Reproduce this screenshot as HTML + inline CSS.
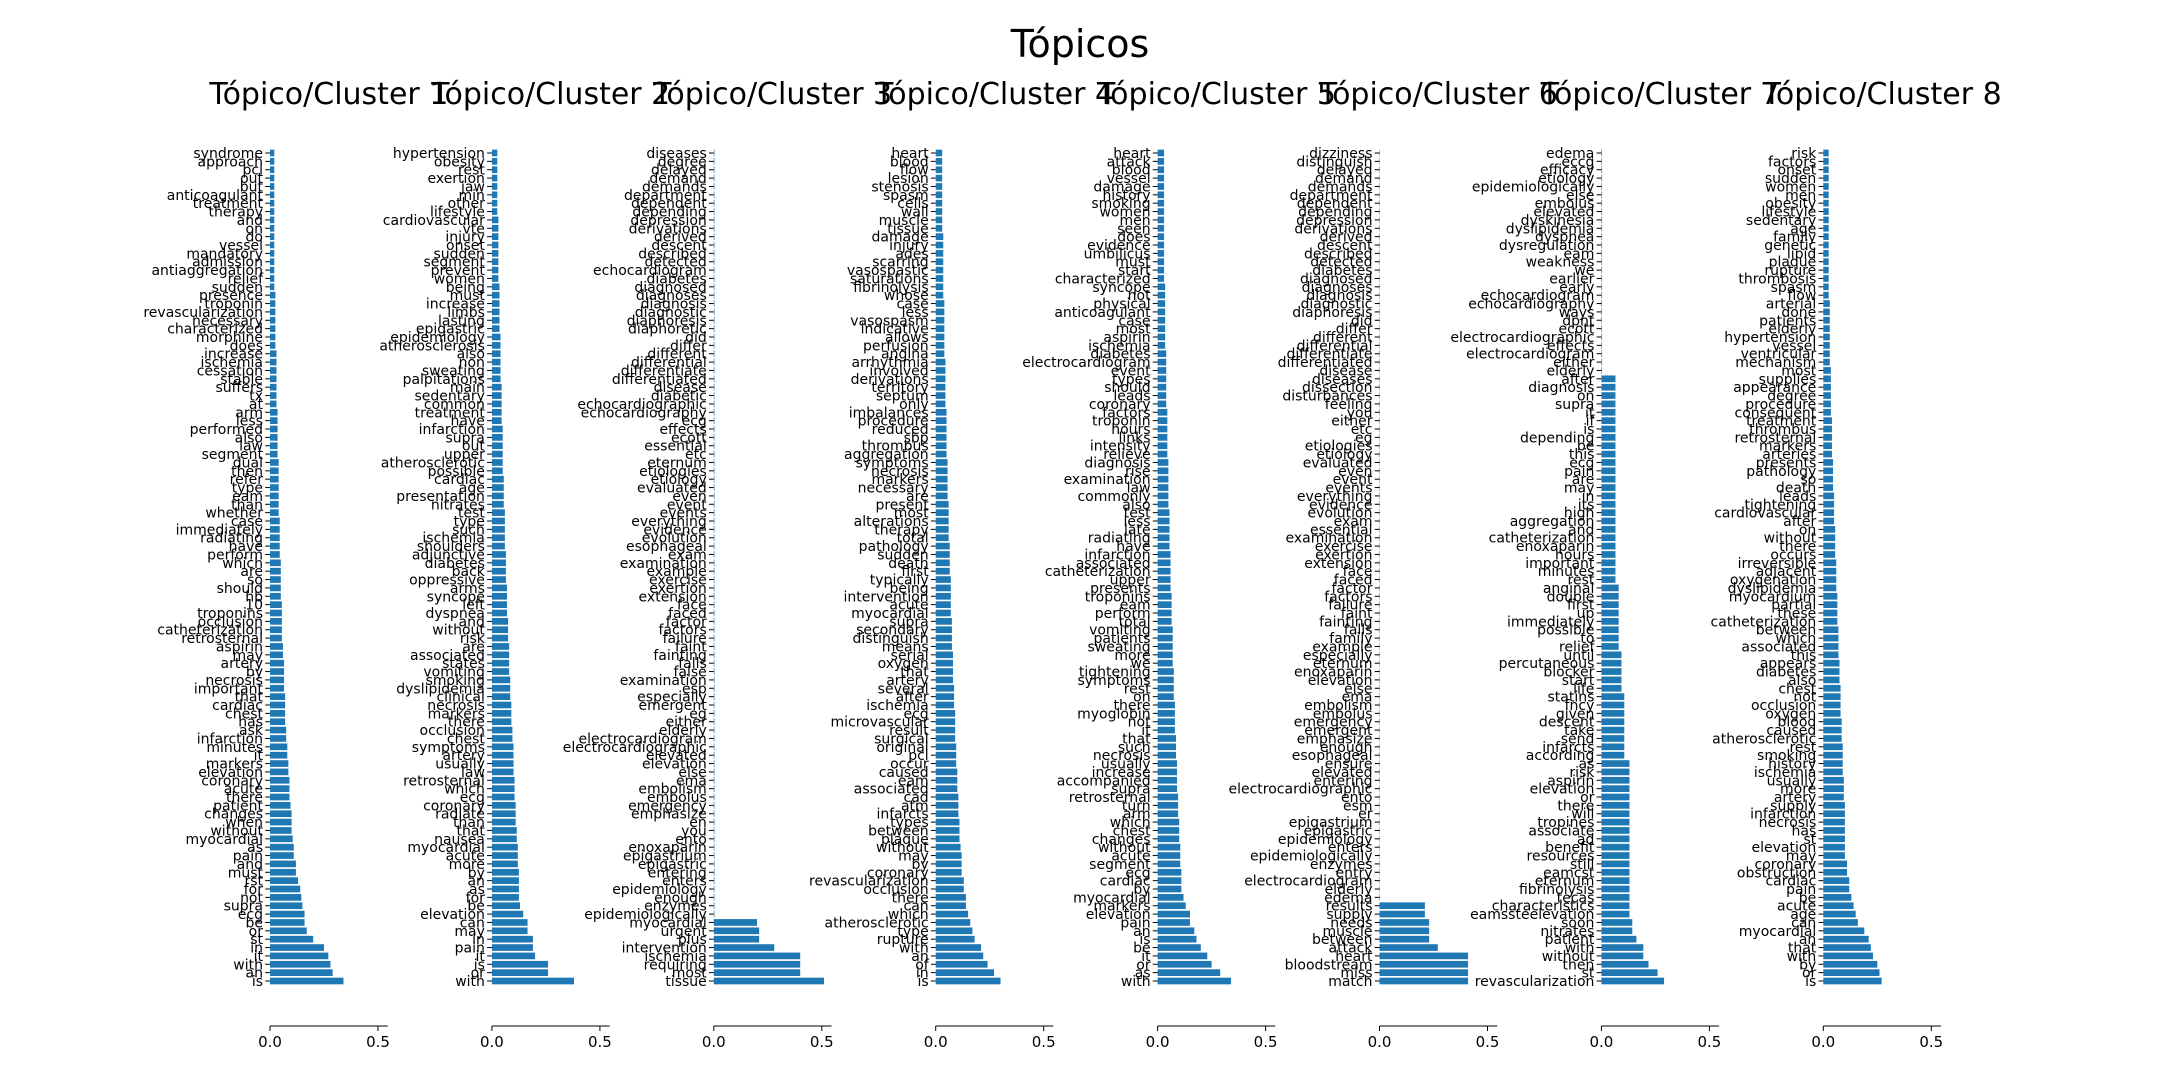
<!DOCTYPE html>
<html><head><meta charset="utf-8"><title>Tópicos</title>
<style>
html,body{margin:0;padding:0;background:#fff;}
svg{display:block;font-family:"DejaVu Sans","Liberation Sans",sans-serif;}
</style></head>
<body>
<svg id="chart" width="2160" height="1080" viewBox="0 0 2160 1080" xmlns="http://www.w3.org/2000/svg">
<rect x="0" y="0" width="2160" height="1080" fill="#ffffff"/>
<text x="1080" y="57" font-size="38" text-anchor="middle" fill="#000">Tópicos</text>
</svg>
<script>
const titles = ["Tópico/Cluster 1","Tópico/Cluster 2","Tópico/Cluster 3","Tópico/Cluster 4","Tópico/Cluster 5","Tópico/Cluster 6","Tópico/Cluster 7","Tópico/Cluster 8"];
const xTicks = [0.0, 0.5];
const xTickLabels = ["0.0","0.5"];

const words1 = ["syndrome","approach","pci","out","but","anticoagulant","treatment","therapy","and","on","do","vessel","mandatory","admission","antiaggregation","relief","sudden","presence","troponin","revascularization","necessary","characterized","morphine","does","increase","ischemia","cessation","stable","suffers","tx","at","arm","less","performed","also","law","segment","dual","then","refer","type","eam","than","whether","case","immediately","radiating","have","perform","which","are","so","should","hb","10","troponins","occlusion","catheterization","retrosternal","aspirin","may","artery","by","necrosis","important","that","cardiac","chest","has","ask","infarction","minutes","it","markers","elevation","coronary","acute","there","patient","changes","when","without","myocardial","as","pain","and","must","rst","for","not","supra","ecg","be","or","st","in","it","with","an","is"];
const values1 = [0.02,0.02,0.02,0.02,0.02,0.02,0.02,0.02,0.02,0.02,
0.02,0.02,0.02,0.02,0.02,0.02,0.02,0.025,0.025,0.025,
0.025,0.025,0.025,0.025,0.03,0.03,0.03,0.03,0.03,0.03,
0.03,0.035,0.035,0.035,0.035,0.035,0.035,0.04,0.04,0.04,
0.04,0.04,0.04,0.04,0.045,0.045,0.045,0.045,0.045,0.05,
0.05,0.05,0.05,0.05,0.055,0.055,0.055,0.055,0.055,0.06,
0.06,0.065,0.065,0.065,0.065,0.07,0.07,0.07,0.07,0.075,
0.075,0.08,0.08,0.085,0.085,0.09,0.09,0.09,0.095,0.1,
0.1,0.1,0.105,0.11,0.11,0.12,0.12,0.13,0.14,0.145,
0.15,0.16,0.16,0.17,0.2,0.25,0.27,0.28,0.29,0.34];

const words2 = ["hypertension","obesity","rest","exertion","jaw","min","other","lifestyle","cardiovascular","vte","injury","onset","sudden","segment","prevent","women","being","must","increase","limbs","lasting","epigastric","epidemiology","atherosclerosis","also","non","sweating","palpitations","main","sedentary","common","treatment","have","infarction","supra","out","upper","atherosclerotic","possible","cardiac","age","presentation","nitrates","test","type","such","ischemia","shoulders","adjunctive","diabetes","back","oppressive","arms","syncope","left","dyspnea","and","without","risk","are","associated","states","vomiting","smoking","dyslipidemia","clinical","necrosis","markers","there","occlusion","chest","symptoms","artery","usually","law","retrosternal","which","ecg","coronary","radiate","than","that","nausea","myocardial","acute","more","by","an","as","for","be","elevation","can","may","in","pain","it","is","or","with"];
const values2 = [0.025,0.025,0.025,0.025,0.025,0.025,0.025,0.025,0.03,0.03,
0.03,0.03,0.03,0.03,0.03,0.03,0.035,0.035,0.035,0.035,
0.035,0.035,0.04,0.04,0.04,0.04,0.04,0.04,0.045,0.045,
0.045,0.045,0.045,0.05,0.05,0.05,0.05,0.05,0.05,0.055,
0.055,0.055,0.055,0.06,0.06,0.06,0.06,0.06,0.065,0.065,
0.065,0.065,0.07,0.07,0.07,0.07,0.075,0.075,0.075,0.08,
0.08,0.08,0.08,0.085,0.085,0.085,0.09,0.09,0.09,0.095,
0.095,0.1,0.1,0.1,0.1,0.105,0.105,0.105,0.11,0.11,
0.11,0.115,0.115,0.12,0.12,0.12,0.125,0.125,0.125,0.125,
0.13,0.145,0.165,0.165,0.19,0.19,0.2,0.26,0.26,0.38];

const words3 = ["diseases","degree","delayed","demand","demands","department","dependent","depending","depression","derivations","derived","descent","described","detected","echocardiogram","diabetes","diagnosed","diagnoses","diagnosis","diagnostic","diaphoresis","diaphoretic","did","differ","different","differential","differentiate","differentiated","disease","diabetic","echocardiographic","echocardiography","ecg","effects","ecott","essential","etc","eternum","etiologies","etiology","evaluated","even","event","events","everything","evidence","evolution","esophageal","exam","examination","example","exercise","exertion","extension","face","faced","factor","factors","failure","faint","fainting","falls","false","examination","esp","especially","emergent","eg","either","elderly","electrocardiogram","electrocardiographic","elevated","elevation","else","ema","embolism","embolus","emergency","emphasize","en","you","ento","enoxaparin","epigastrium","epigastric","entering","enters","epidemiology","enough","enzymes","epidemiologically","myocardial","urgent","plus","intervention","ischemia","requiring","most","tissue"];
const values3 = [0.003,0.003,0.003,0.003,0.003,0.003,0.003,0.003,0.003,0.003,
0.003,0.003,0.003,0.003,0.003,0.003,0.003,0.003,0.003,0.003,
0.003,0.003,0.003,0.003,0.003,0.003,0.003,0.003,0.003,0.003,
0.003,0.003,0.003,0.003,0.003,0.003,0.003,0.003,0.003,0.003,
0.003,0.003,0.003,0.003,0.003,0.003,0.003,0.003,0.003,0.003,
0.003,0.003,0.003,0.003,0.003,0.003,0.003,0.003,0.003,0.003,
0.003,0.003,0.003,0.003,0.003,0.003,0.003,0.003,0.003,0.003,
0.003,0.003,0.003,0.003,0.003,0.003,0.003,0.003,0.003,0.003,
0.003,0.003,0.003,0.003,0.003,0.003,0.003,0.003,0.003,0.003,
0.003,0.003,0.2,0.21,0.21,0.28,0.4,0.4,0.4,0.51];

const words4 = ["heart","blood","flow","lesion","stenosis","spasm","cells","wall","muscle","tissue","damage","injury","ades","scarring","vasospastic","saturations","fibrinolysis","whose","case","less","vasospasm","indicative","allows","perfusion","angina","arrhythmia","involved","derivations","territory","septum","only","imbalances","procedure","reduced","sbp","thrombus","aggregation","symptoms","necrosis","markers","necessary","are","present","most","alterations","therapy","total","pathology","sudden","death","first","typically","being","intervention","acute","myocardial","supra","secondary","distinguish","means","serial","oxygen","that","artery","several","after","ischemia","ecg","microvascular","result","surgical","original","pci","occur","caused","eam","associated","cad","atm","infarcts","types","between","plaque","without","may","by","coronary","revascularization","occlusion","there","can","which","atherosclerotic","type","rupture","with","an","of","in","is"];
const values4 = [0.03,0.03,0.03,0.03,0.03,0.03,0.03,0.03,0.03,0.03,
0.035,0.035,0.035,0.035,0.035,0.035,0.035,0.035,0.04,0.04,
0.04,0.04,0.04,0.04,0.04,0.045,0.045,0.045,0.045,0.045,
0.045,0.05,0.05,0.05,0.05,0.05,0.05,0.055,0.055,0.055,
0.055,0.055,0.06,0.06,0.06,0.06,0.06,0.065,0.065,0.065,
0.065,0.07,0.07,0.07,0.07,0.07,0.075,0.075,0.075,0.075,
0.08,0.08,0.08,0.08,0.085,0.085,0.085,0.09,0.09,0.09,
0.09,0.095,0.095,0.095,0.1,0.1,0.1,0.105,0.105,0.105,
0.11,0.11,0.11,0.115,0.12,0.12,0.12,0.13,0.13,0.14,
0.14,0.15,0.16,0.17,0.18,0.21,0.22,0.24,0.27,0.3];

const words5 = ["heart","attack","blood","vessel","damage","history","smoking","women","men","seen","does","evidence","umbilicus","must","start","characterized","syncope","not","physical","anticoagulant","case","most","aspirin","ischemia","diabetes","electrocardiogram","event","types","should","leads","coronary","factors","troponin","hours","links","intensity","relieve","diagnosis","rise","examination","law","commonly","also","test","less","late","radiating","have","infarction","associated","catheterization","upper","presents","troponins","eam","perform","total","vomiting","patients","sweating","more","we","tightening","symptoms","rest","on","there","myoglobin","not","it","that","such","necrosis","usually","increase","accompanied","supra","retrosternal","turn","arm","which","chest","changes","without","acute","segment","ecg","cardiac","by","myocardial","markers","elevation","pain","an","is","be","it","or","as","with"];
const values5 = [0.03,0.03,0.03,0.03,0.03,0.03,
0.03,0.03,0.03,0.03,0.03,0.03,0.03,0.03,0.03,0.03,
0.035,0.035,0.035,0.035,0.035,0.035,0.035,0.035,0.04,0.04,
0.04,0.04,0.04,0.04,0.04,0.045,0.045,0.045,0.045,0.045,
0.045,0.05,0.05,0.05,0.05,0.05,0.05,0.055,0.055,0.055,
0.055,0.055,0.06,0.06,0.06,0.06,0.06,0.065,0.065,0.065,
0.065,0.07,0.07,0.07,0.07,0.07,0.075,0.075,0.075,0.075,
0.08,0.08,0.08,0.08,0.085,0.085,0.085,0.09,0.09,0.09,
0.09,0.095,0.095,0.095,0.1,0.1,0.1,0.105,0.105,0.105,
0.11,0.11,0.11,0.12,0.13,0.15,0.15,0.17,0.18,0.2,
0.23,0.25,0.29,0.34];

const words6 = ["dizziness","distinguish","delayed","demand","demands","department","dependent","depending","depression","derivations","derived","descent","described","detected","diabetes","diagnosed","diagnoses","diagnosis","diagnostic","diaphoresis","did","differ","different","differential","differentiate","differentiated","disease","diseases","dissection","disturbances","feeling","you","either","etc","eg","etiologies","etiology","evaluated","even","event","events","everything","evidence","evolution","exam","essential","examination","exercise","exertion","extension","face","faced","factor","factors","failure","faint","fainting","falls","family","example","especially","eternum","enoxaparin","elevation","else","ema","embolism","embolus","emergency","emergent","emphasize","enough","esophageal","ensure","elevated","entering","electrocardiographic","ento","esm","er","epigastrium","epigastric","epidemiology","enters","epidemiologically","enzymes","entry","electrocardiogram","elderly","edema","results","supply","needs","muscle","between","attack","heart","bloodstream","miss","match"];
const values6 = [0.002,0.002,0.002,0.002,0.002,0.002,0.002,0.002,0.002,0.002,
0.002,0.002,0.002,0.002,0.002,0.002,0.002,0.002,0.002,0.002,
0.002,0.002,0.002,0.002,0.002,0.002,0.002,0.002,0.002,0.002,
0.002,0.002,0.002,0.002,0.002,0.002,0.002,0.002,0.002,0.002,
0.002,0.002,0.002,0.002,0.002,0.002,0.002,0.002,0.002,0.002,
0.002,0.002,0.002,0.002,0.002,0.002,0.002,0.002,0.002,0.002,
0.002,0.002,0.002,0.002,0.002,0.002,0.002,0.002,0.002,0.002,
0.002,0.002,0.002,0.002,0.002,0.002,0.002,0.002,0.002,0.002,
0.002,0.002,0.002,0.002,0.002,0.002,0.002,0.002,0.002,0.002,
0.21,0.21,0.23,0.23,0.23,0.27,0.41,0.41,0.41,0.41];

const words7 = ["edema","eccg","efficacy","etiology","epidemiologically","else","embolus","elevated","dyskinesia","dyslipidemia","dyspnea","dysregulation","eam","weakness","we","earlier","early","echocardiogram","echocardiography","ways","dpnt","ecott","electrocardiographic","effects","electrocardiogram","either","elderly","after","diagnosis","on","supra","it","if","is","depending","be","this","ecg","pain","are","may","in","its","high","aggregation","and","catheterization","enoxaparin","hours","important","minutes","rest","anginal","double","first","up","immediately","possible","to","relief","until","percutaneous","blocker","start","life","statins","fncy","given","descent","take","send","infarcts","according","as","risk","aspirin","elevation","or","there","will","tropines","associate","ad","benefit","resources","still","eamcst","eternum","fibrinolysis","tecas","characteristics","eamssteelevation","soon","nitrates","patient","with","without","then","st","revascularization"];
const values7 = [0.003,0.003,0.003,0.003,0.003,0.003,0.003,0.003,0.003,0.003,
0.003,0.003,0.003,0.003,0.003,0.003,0.003,0.003,0.003,0.003,
0.003,0.003,0.003,0.003,0.003,0.003,0.003,0.065,0.065,0.065,
0.065,0.065,0.065,0.065,0.065,0.065,0.065,0.065,0.065,0.065,
0.065,0.065,0.065,0.065,0.065,0.065,0.065,0.065,0.065,0.065,
0.065,0.065,0.08,0.08,0.08,0.08,0.08,0.08,0.08,0.08,
0.093,0.093,0.093,0.093,0.093,0.106,0.106,0.106,0.106,0.106,
0.106,0.106,0.106,0.13,0.13,0.13,0.13,0.13,0.13,0.13,
0.13,0.13,0.13,0.13,0.13,0.13,0.13,0.13,0.13,0.13,
0.13,0.13,0.143,0.143,0.162,0.194,0.194,0.218,0.26,0.29];

const words8 = ["risk","factors","onset","sudden","women","men","obesity","lifestyle","sedentary","age","family","genetic","lipid","plaque","rupture","thrombosis","spasm","flow","arterial","done","patients","elderly","hypertension","vessel","ventricular","mechanism","most","supplies","appearance","degree","procedure","consequent","treatment","thrombus","retrosternal","markers","arteries","presents","pathology","so","death","leads","tightening","cardiovascular","after","on","without","there","occurs","irreversible","adjacent","oxygenation","dyslipidemia","myocardium","partial","these","catheterization","between","which","associated","this","appears","diabetes","also","chest","not","occlusion","oxygen","blood","caused","atherosclerotic","rest","smoking","history","ischemia","usually","more","artery","supply","infarction","necrosis","has","st","elevation","may","coronary","obstruction","cardiac","pain","be","acute","age","can","myocardial","an","that","with","by","or","is"];
const values8 = [0.025,0.025,0.025,0.025,0.025,0.025,0.025,0.025,0.025,0.025,
0.025,0.025,0.025,0.025,0.025,0.025,0.025,0.025,
0.03,0.03,0.03,0.03,0.03,0.03,0.03,0.03,0.035,0.035,
0.035,0.035,0.035,0.035,0.04,0.04,0.04,0.04,0.04,0.045,
0.045,0.045,0.045,0.05,0.05,0.05,0.05,0.055,0.055,0.055,
0.055,0.06,0.06,0.06,0.06,0.065,0.065,0.065,0.065,0.07,
0.07,0.07,0.07,0.075,0.075,0.075,0.08,0.08,0.08,0.08,
0.085,0.085,0.085,0.09,0.09,0.09,0.09,0.095,0.095,0.095,
0.1,0.1,0.1,0.1,0.1,0.1,0.1,0.11,0.11,0.12,
0.12,0.13,0.14,0.15,0.16,0.19,0.21,0.22,0.23,0.25,
0.26,0.27];

const allWords = [words1,words2,words3,words4,words5,words6,words7,words8];
const allValues = [values1,values2,values3,values4,values5,values6,values7,values8];

const NS = "http://www.w3.org/2000/svg";
const svg = document.getElementById("chart");
const ROWS = 100, TOP_Y = 153, BOTTOM_Y = 981;
const STEP = (BOTTOM_Y - TOP_Y) / (ROWS - 1);
const BAR_H = STEP * 0.8;
const SCALE = 216;
const XMAX = 0.545;
function panelX0(k){ return 270 + 221.9 * k; }
function xPos(k, v){ return panelX0(k) + v * SCALE; }
function yPos(row){ return TOP_Y + row * STEP; }
function mk(tag, attrs){ const e = document.createElementNS(NS, tag); for (const a in attrs) e.setAttribute(a, attrs[a]); return e; }

for (let k = 0; k < 8; k++) {
  const g = mk("g", {});
  
  
  svg.appendChild(g);
  const x0 = panelX0(k);

  const t = mk("text", {x: x0 + XMAX * SCALE / 2, y: 104, "font-size": 30, "text-anchor": "middle", fill: "#000"});
  
  
  t.textContent = titles[k];
  g.appendChild(t);

  const words = allWords[k], vals = allValues[k];
  const n = Math.min(words.length, ROWS);
  for (let j = 0; j < n; j++) {
    const wi = words.length - n + j;
    const vi = vals.length - n + j;
    const v = vi >= 0 ? vals[vi] : 0;
    const row = ROWS - n + j;
    const y = yPos(row);
    const bar = mk("rect", {x: x0, y: y - BAR_H / 2, width: Math.max(0, xPos(k, v) - x0), height: BAR_H, fill: "#1f77b4"});
    
    
    g.appendChild(bar);
    const tk = mk("line", {x1: x0 - 4.8, x2: x0, y1: y, y2: y, stroke: "#000", "stroke-width": 1});
    
    
    g.appendChild(tk);
    const lb = mk("text", {x: x0 - 7, y: y + 5, "font-size": 14, "text-anchor": "end", fill: "#000"});
    
    
    lb.textContent = words[wi];
    g.appendChild(lb);
  }

  const ax = mk("line", {x1: x0, x2: xPos(k, XMAX), y1: 1026, y2: 1026, stroke: "#000", "stroke-width": 1.1});
  
  
  g.appendChild(ax);
  for (let i = 0; i < xTicks.length; i++) {
    const xt = xPos(k, xTicks[i]);
    const tm = mk("line", {x1: xt, x2: xt, y1: 1026, y2: 1031, stroke: "#000", "stroke-width": 1});
    
    
    g.appendChild(tm);
    const tl = mk("text", {x: xt, y: 1047, "font-size": 15, "text-anchor": "middle", fill: "#000"});
    
    
    tl.textContent = xTickLabels[i];
    g.appendChild(tl);
  }
}
</script>
</body></html>
